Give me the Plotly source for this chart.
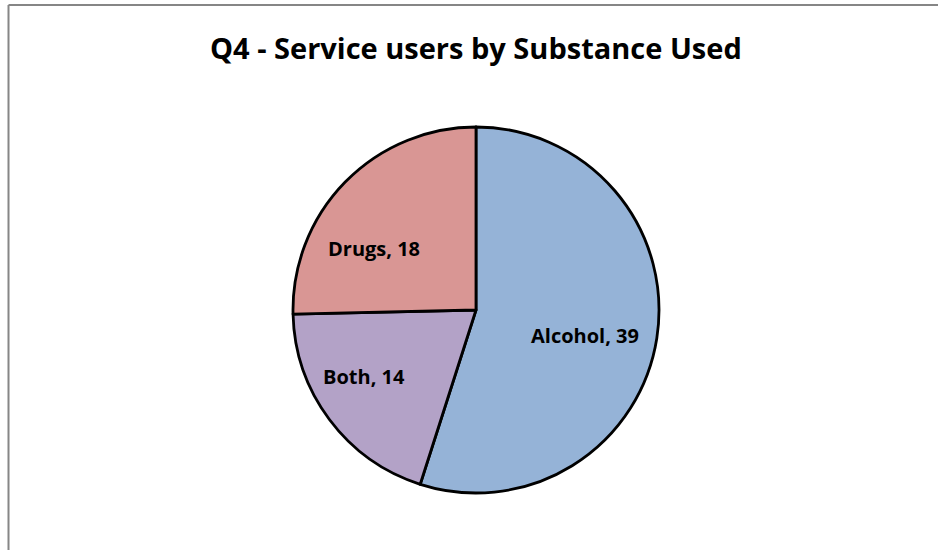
import math
import plotly.graph_objects as go

# Service users by substance, Q4
categories = ["Alcohol", "Both", "Drugs"]
users = [39, 14, 18]
slice_colors = ["#95B3D7", "#B3A2C7", "#D99694"]

W, H = 938, 550
title_text = "Q4 - Service users by Substance Used"

# pie placement in pixels
cx, cy, R = 476, 310, 183

# per-slice label placement: fraction of radius and angular nudge (deg)
label_radius = [0.61, 0.71, 0.65]
label_nudge = [4.5, 6.0, -13.0]

fig = go.Figure(
    go.Pie(
        labels=categories,
        values=users,
        sort=False,
        direction="clockwise",
        rotation=0,
        marker=dict(colors=slice_colors, line=dict(color="black", width=2.8)),
        textinfo="none",
        showlegend=False,
        hoverinfo="label+value",
        domain=dict(x=[(cx - R) / W, (cx + R) / W], y=[(H - cy - R) / H, (H - cy + R) / H]),
    )
)

# data labels "<category>, <value>" placed inside each slice
total = sum(users)
annotations = []
start = 0.0
for name, val, rf, nudge in zip(categories, users, label_radius, label_nudge):
    mid = (start + val / 2) / total * 360 + nudge
    start += val
    a = math.radians(mid)
    px = cx + rf * R * math.sin(a)
    py = cy - rf * R * math.cos(a)
    annotations.append(dict(
        text=f"{name}, {val}", x=px / W, y=1 - py / H, xref="paper", yref="paper",
        xanchor="center", yanchor="middle", showarrow=False,
        font=dict(family="Open Sans", size=20, color="black", weight="bold")))

annotations.append(dict(
    text=title_text, x=476 / W, y=1 - 47 / H, xref="paper", yref="paper",
    xanchor="center", yanchor="middle", showarrow=False,
    font=dict(family="Open Sans", size=29, color="black", weight="bold")))

fig.update_layout(
    width=W,
    height=H,
    margin=dict(l=0, r=0, t=0, b=0),
    paper_bgcolor="white",
    plot_bgcolor="white",
    shapes=[
        # chart-area frame (left and top edges visible)
        dict(type="line", xref="paper", yref="paper",
             x0=8.5 / W, x1=1.01, y0=1 - 5 / H, y1=1 - 5 / H,
             line=dict(color="#868686", width=2)),
        dict(type="line", xref="paper", yref="paper",
             x0=8.5 / W, x1=8.5 / W, y0=-0.01, y1=1 - 5 / H,
             line=dict(color="#868686", width=2)),
    ],
    annotations=annotations,
)

fig.write_html("out.html")
